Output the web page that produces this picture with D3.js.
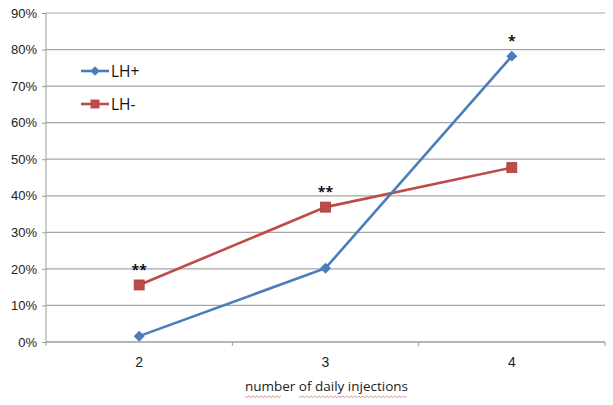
<!DOCTYPE html>
<html>
<head>
<meta charset="utf-8">
<script src="https://cdn.jsdelivr.net/npm/d3@7"></script>
<style>
  body { margin: 0; background: #fff; }
  svg { display: block; font-family: "Open Sans", "Noto Sans", sans-serif; }
</style>
</head>
<body>
<svg width="613" height="405"></svg>
<script>
// data
var injections = ["2", "3", "4"];
var lhPlus = [0.016, 0.202, 0.782];
var lhMinus = [0.156, 0.369, 0.477];
var stars = ["**", "**", "*"];
var starOn = ["minus", "minus", "plus"];
var yTicks = [0, 0.1, 0.2, 0.3, 0.4, 0.5, 0.6, 0.7, 0.8, 0.9];

var svg = d3.select("svg"),
    margin = {top: 13, right: 8, bottom: 63, left: 46},
    width = +svg.attr("width") - margin.left - margin.right,
    height = +svg.attr("height") - margin.top - margin.bottom,
    g = svg.append("g").attr("transform", "translate(" + margin.left + "," + margin.top + ")");

var x = d3.scaleBand().domain(injections).range([0, width]);
var y = d3.scaleLinear().domain([0, 0.9]).range([height, 0]);

var blue = "#4a7ebb", red = "#be4b48";

// gridlines
g.append("g")
  .selectAll("line")
  .data(yTicks)
  .join("line")
    .attr("x1", 0).attr("x2", width)
    .attr("y1", function(d) { return y(d); })
    .attr("y2", function(d) { return y(d); })
    .attr("stroke", "#a6a6a6")
    .attr("stroke-width", 1.2);

// y axis
var yAxis = g.append("g")
    .call(d3.axisLeft(y).tickValues(yTicks).tickFormat(d3.format(".0%")).tickSize(4).tickPadding(5));
yAxis.select(".domain").attr("stroke", "#9a9a9a").attr("d", "M0,0V" + height);
yAxis.selectAll(".tick line").attr("stroke", "#9a9a9a");
yAxis.selectAll("text").attr("font-size", 13).attr("fill", "#222");

// x axis
var xAxis = g.append("g")
    .attr("transform", "translate(0," + height + ")")
    .call(d3.axisBottom(x).tickSize(0).tickPadding(15));
xAxis.select(".domain").attr("stroke", "#9a9a9a").attr("d", "M0,0H" + width);
xAxis.selectAll("text").attr("font-size", 14).attr("fill", "#222");
g.append("g")
  .selectAll("line")
  .data([0, 1, 2, 3])
  .join("line")
    .attr("x1", function(i) { return i * x.step(); })
    .attr("x2", function(i) { return i * x.step(); })
    .attr("y1", height).attr("y2", height + 4)
    .attr("stroke", "#9a9a9a");

// x title
var title = g.append("text")
    .attr("x", width / 2 + 1)
    .attr("y", height + 49)
    .attr("text-anchor", "middle")
    .attr("font-size", 13.5)
    .attr("fill", "#222")
    .text("number of daily injections");

// spellcheck squiggle under the title words
var tb = title.node().getBBox();
function squiggle(x0, x1, yy) {
  var p = "M" + x0 + "," + yy;
  for (var xx = x0, k = 0; xx < x1; xx += 2, k++) {
    p += "L" + (xx + 2) + "," + (yy + (k % 2 ? 0 : 1.5));
  }
  return p;
}
[[0, 0.22], [0.33, 0.99]].forEach(function(s) {
  g.append("path")
    .attr("d", squiggle(tb.x + s[0] * tb.width, tb.x + s[1] * tb.width, tb.y + tb.height + 1))
    .attr("fill", "none")
    .attr("stroke", "#d87a7a")
    .attr("stroke-width", 0.8);
});

var cx = function(d, i) { return x(injections[i]) + x.bandwidth() / 2; };
var line = d3.line().x(cx).y(function(d) { return y(d); });
var diamond = d3.symbol(d3.symbolSquare, 60);

// LH- series
g.append("path")
  .datum(lhMinus)
  .attr("fill", "none")
  .attr("stroke", red)
  .attr("stroke-width", 2.6)
  .attr("d", line);
g.append("g")
  .selectAll("rect")
  .data(lhMinus)
  .join("rect")
    .attr("x", function(d, i) { return cx(d, i) - 5; })
    .attr("y", function(d) { return y(d) - 5; })
    .attr("width", 10).attr("height", 10)
    .attr("fill", red)
    .attr("stroke", "#a83c3a")
    .attr("stroke-width", 0.8);

// LH+ series
g.append("path")
  .datum(lhPlus)
  .attr("fill", "none")
  .attr("stroke", blue)
  .attr("stroke-width", 2.6)
  .attr("d", line);
g.append("g")
  .selectAll("path")
  .data(lhPlus)
  .join("path")
    .attr("d", diamond)
    .attr("transform", function(d, i) { return "translate(" + cx(d, i) + "," + y(d) + ") rotate(45)"; })
    .attr("fill", blue);

// significance stars
g.append("g")
  .selectAll("text")
  .data(stars)
  .join("text")
    .attr("x", function(d, i) { return cx(d, i); })
    .attr("y", function(d, i) {
      var v = starOn[i] === "plus" ? lhPlus[i] : lhMinus[i];
      return y(v) - 10;
    })
    .attr("text-anchor", "middle")
    .attr("font-size", 14)
    .attr("font-weight", "bold")
    .attr("fill", "#111")
    .text(function(d) { return d; });

// legend
var legend = svg.append("g").attr("transform", "translate(81,71)");
var items = [{name: "LH+", color: blue, shape: "diamond"}, {name: "LH-", color: red, shape: "square"}];
var li = legend.selectAll("g")
  .data(items)
  .join("g")
    .attr("transform", function(d, i) { return "translate(0," + i * 33 + ")"; });
li.append("line")
  .attr("x1", 0).attr("x2", 28)
  .attr("stroke", function(d) { return d.color; })
  .attr("stroke-width", 2.6);
li.append("path")
  .attr("d", function(d) {
    return d3.symbol(d3.symbolSquare, d.shape === "diamond" ? 45 : 80)();
  })
  .attr("transform", function(d) { return "translate(14,0)" + (d.shape === "diamond" ? " rotate(45)" : ""); })
  .attr("fill", function(d) { return d.color; });
li.append("text")
  .attr("x", 30)
  .attr("dy", "0.36em")
  .attr("font-size", 15.5)
  .attr("fill", "#111")
  .text(function(d) { return d.name; });
</script>
</body>
</html>
